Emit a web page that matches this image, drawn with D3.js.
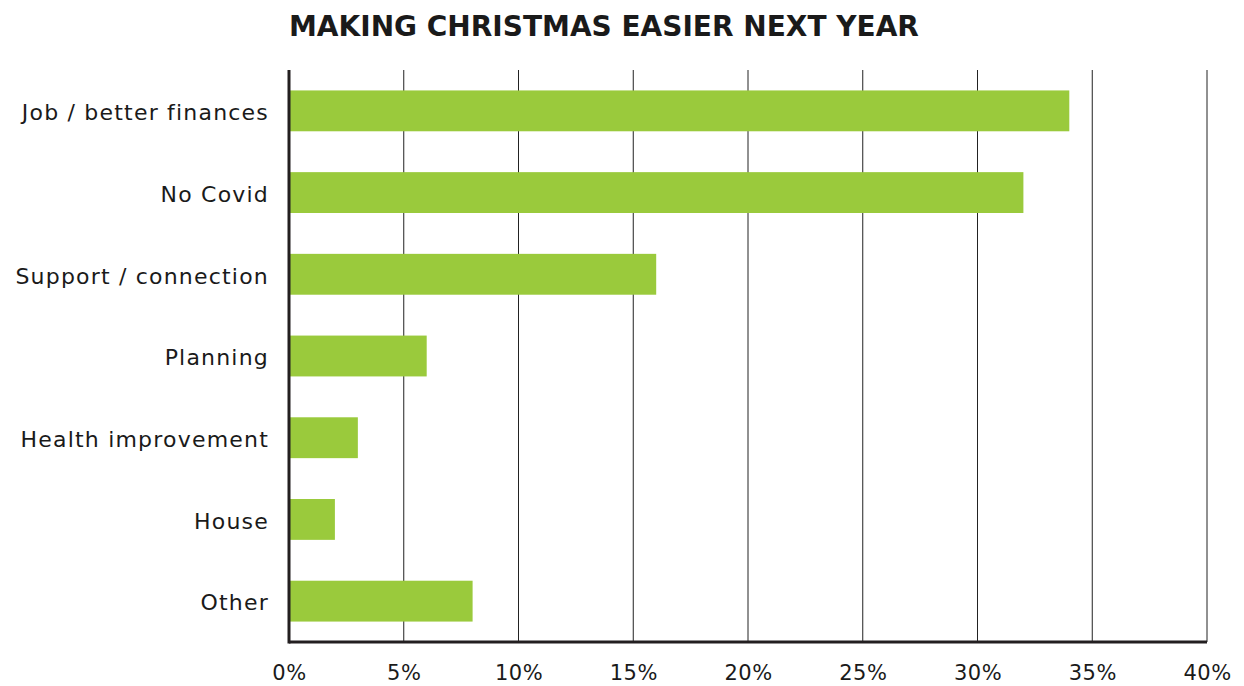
<!DOCTYPE html>
<html>
<head>
<meta charset="utf-8">
<script src="https://cdn.jsdelivr.net/npm/d3@7"></script>
<style>
  body { margin: 0; background: #fff; }
  text { font-family: "DejaVu Sans", sans-serif; fill: #1a1a1a; }
</style>
</head>
<body>
<div id="chart"></div>
<script>
/* --- データ --- */
const categories = ["Job / better finances", "No Covid", "Support / connection", "Planning", "Health improvement", "House", "Other"];
const values = [34, 32, 16, 6, 3, 2, 8];
const xTicks = [0, 5, 10, 15, 20, 25, 30, 35, 40];
const titleText = "MAKING CHRISTMAS EASIER NEXT YEAR";

const width = 1244, height = 686;
const margin = {top: 70, right: 37, bottom: 44, left: 289};

const svg = d3.select("#chart").append("svg")
    .attr("width", width)
    .attr("height", height);

const xScale = d3.scaleLinear()
    .domain([0, 40])
    .range([margin.left, width - margin.right]);

const yScale = d3.scaleBand()
    .domain(categories)
    .range([margin.top, height - margin.bottom])
    .paddingInner(0.5)
    .paddingOuter(0.25);

/*--- グリッド ---*/
svg.append("g")
    .selectAll("line")
    .data(xTicks.slice(1))
    .join("line")
    .attr("x1", d => xScale(d)).attr("x2", d => xScale(d))
    .attr("y1", margin.top).attr("y2", height - margin.bottom)
    .attr("stroke", "#222")
    .attr("stroke-width", 1);

/*--- バー ---*/
svg.append("g")
    .selectAll("rect")
    .data(values)
    .join("rect")
    .attr("x", xScale(0))
    .attr("y", (d, i) => yScale(categories[i]))
    .attr("width", d => xScale(d) - xScale(0))
    .attr("height", yScale.bandwidth())
    .attr("fill", "#9aca3c");

/*--- 軸 ---*/
svg.append("line")
    .attr("x1", xScale(0)).attr("x2", xScale(40))
    .attr("y1", height - margin.bottom).attr("y2", height - margin.bottom)
    .attr("stroke", "#231f20").attr("stroke-width", 3);

svg.append("line")
    .attr("x1", xScale(0)).attr("x2", xScale(0))
    .attr("y1", margin.top).attr("y2", height - margin.bottom + 1.5)
    .attr("stroke", "#231f20").attr("stroke-width", 3);

const xAxis = d3.axisBottom(xScale)
    .tickValues(xTicks)
    .tickFormat(d => d + "%")
    .tickSize(0)
    .tickPadding(23);

const xg = svg.append("g")
    .attr("transform", "translate(0," + (height - margin.bottom) + ")")
    .call(xAxis);
xg.select(".domain").remove();
xg.selectAll("text")
    .style("font-family", "DejaVu Sans, sans-serif")
    .style("font-size", "21px")
    .style("letter-spacing", "0.5px")
    .attr("fill", "#1a1a1a");

const yAxis = d3.axisLeft(yScale).tickSize(0).tickPadding(20);
const yg = svg.append("g")
    .attr("transform", "translate(" + margin.left + ",0)")
    .call(yAxis);
yg.select(".domain").remove();
yg.selectAll("text")
    .attr("dy", "0.42em")
    .style("font-family", "DejaVu Sans, sans-serif")
    .style("font-size", "22px")
    .style("letter-spacing", "1.2px")
    .attr("fill", "#1a1a1a");

/*--- タイトル ---*/
svg.append("text")
    .attr("x", 289)
    .attr("y", 36)
    .style("font-size", "28px")
    .style("font-weight", "bold")
    .attr("fill", "#000")
    .text(titleText);
</script>
</body>
</html>
